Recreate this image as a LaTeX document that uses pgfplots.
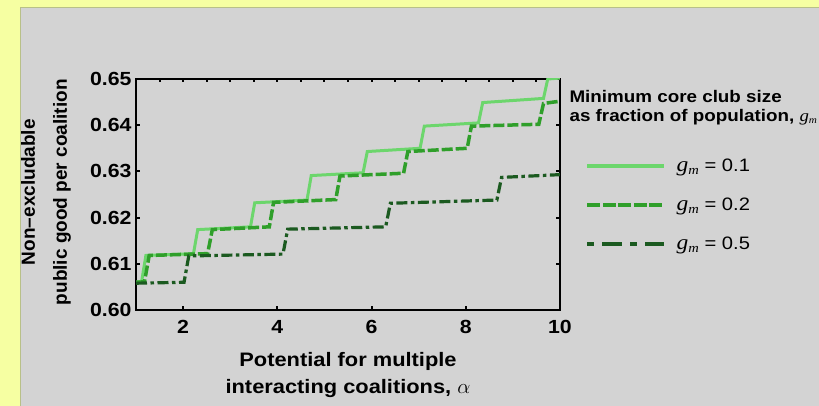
\documentclass[border=0pt]{standalone}
\usepackage{pgfplots}
\pgfplotsset{compat=1.18}
\usepackage{fontspec}
\setmainfont{Liberation Sans}[FakeStretch=1.12]
\newfontfamily\plainsans{Liberation Sans}
\newfontfamily\timesit{Liberation Serif}[FakeStretch=1.12]
\newcommand{\gm}{{\timesit\itshape g\raisebox{-0.35ex}{\fontsize{10}{10}\selectfont m}}}
\newcommand{\gmL}{{\timesit\itshape\fontsize{21}{21}\selectfont g\raisebox{-0.35ex}{\fontsize{13}{13}\selectfont m}}}
\definecolor{bgyellow}{HTML}{F6FFA2}
\definecolor{bggray}{HTML}{D3D3D3}
\definecolor{bgedge}{HTML}{B8C088}
\definecolor{gA}{HTML}{6CD66C}
\definecolor{gB}{HTML}{2F9F2A}
\definecolor{gC}{HTML}{1B5A20}

\pgfplotstableread{
x y
1.00 0.6060
1.12 0.6062
1.21 0.6118
2.22 0.6122
2.31 0.6174
3.43 0.6180
3.52 0.6232
4.63 0.6238
4.72 0.6291
5.82 0.6297
5.91 0.6343
7.03 0.6350
7.12 0.6398
8.27 0.6405
8.36 0.6449
9.65 0.6458
9.74 0.6500
10.0 0.6502
}\gone
\pgfplotstableread{
x y
1.00 0.6060
1.18 0.6061
1.28 0.6118
2.52 0.6122
2.62 0.6174
3.83 0.6180
3.92 0.6233
5.24 0.6239
5.33 0.6290
6.68 0.6296
6.77 0.6343
8.03 0.6350
8.12 0.6398
9.55 0.6402
9.65 0.6447
10.0 0.6452
}\gtwo
\pgfplotstableread{
x y
1.00 0.6058
2.02 0.6060
2.12 0.6117
4.12 0.6121
4.22 0.6175
6.30 0.6180
6.40 0.6231
8.66 0.6238
8.76 0.6287
10.0 0.6293
}\gfive

\begin{document}
\begin{tikzpicture}
\useasboundingbox (0pt,0pt) rectangle (819pt,406pt);
\fill[bgyellow] (0pt,0pt) rectangle (819pt,406pt);
\fill[bggray] (20pt,0pt) rectangle (819pt,399pt);
\draw[bgedge, line width=1.2pt] (20.5pt,0pt) -- (20.5pt,398.5pt) -- (819pt,398.5pt);

% top minor ticks
\begin{axis}[at={(136pt,96pt)}, anchor=south west, scale only axis,
  width=424pt, height=231pt, xmin=1, xmax=10, ymin=0, ymax=1,
  axis line style={draw=none}, ytick=\empty,
  xtick={1.5,2,...,9.5}, xticklabels={}, xtick pos=upper,
  tick align=inside, major tick length=3.5pt,
  every tick/.style={black, line width=2pt}]
\end{axis}

\begin{axis}[at={(136pt,96pt)}, anchor=south west, scale only axis,
  width=424pt, height=231pt,
  xmin=1, xmax=10, ymin=0.60, ymax=0.65,
  xtick={2,4,6,8,10}, ytick={0.60,0.61,0.62,0.63,0.64,0.65},
  xtick pos=lower,
  /pgf/number format/assume math mode=true,
  yticklabel style={/pgf/number format/fixed, /pgf/number format/fixed zerofill,
    /pgf/number format/precision=2, xshift=-1pt},
  tick label style={font=\fontsize{19}{19}\selectfont\bfseries},
  xticklabel style={yshift=-7pt},
  tick align=inside, major tick length=4pt,
  every tick/.style={black, line width=2pt},
  axis line style={line width=2.5pt},
  xlabel={Potential for multiple\\interacting coalitions, $\alpha$},
  xlabel style={at={(axis description cs:0.5,-0.2835)}, anchor=center, align=center,
    font=\fontsize{19.5}{27}\selectfont\bfseries},
  ylabel={Non–excludable\\public good per coalition},
  ylabel style={at={(axis description cs:-0.2123,0.51)}, anchor=center, align=center,
    font=\plainsans\fontsize{19}{32}\selectfont\bfseries},
  legend style={at={(1.059,0.4545)}, anchor=west, draw=none, fill=none,
    font=\fontsize{18}{18}\selectfont, row sep=25pt, column sep=10pt, inner sep=0pt,
    nodes={inner sep=0pt}},
  legend cell align=left,
  legend image code/.code={\draw[#1] (0pt,0pt) -- (77pt,0pt);},
]
\addplot[forget plot, gA, line width=3pt] table {\gone};
\addplot[forget plot, gB, line width=3.5pt, dash pattern=on 11pt off 3pt] table {\gtwo};
\addplot[forget plot, gC, line width=3.2pt, dash pattern=on 11pt off 3.5pt on 3.5pt off 3.5pt] table {\gfive};
\addlegendimage{gA, line width=4pt}
\addlegendentry{\gmL{} = 0.1}
\addlegendimage{gB, line width=4.5pt, dash pattern=on 13pt off 2.5pt}
\addlegendentry{\gmL{} = 0.2}
\addlegendimage{gC, line width=4.5pt, dash pattern=on 7pt off 8pt on 20pt off 8pt}
\addlegendentry{\gmL{} = 0.5}
\end{axis}

\node[anchor=west, font=\fontsize{16.8}{16.8}\selectfont\bfseries] at (566pt,309.3pt) {Minimum core club size};
\node[anchor=west, font=\fontsize{16.8}{16.8}\selectfont\bfseries] at (566pt,289pt) {as fraction of population, {\mdseries\gm}};
\end{tikzpicture}
\end{document}
